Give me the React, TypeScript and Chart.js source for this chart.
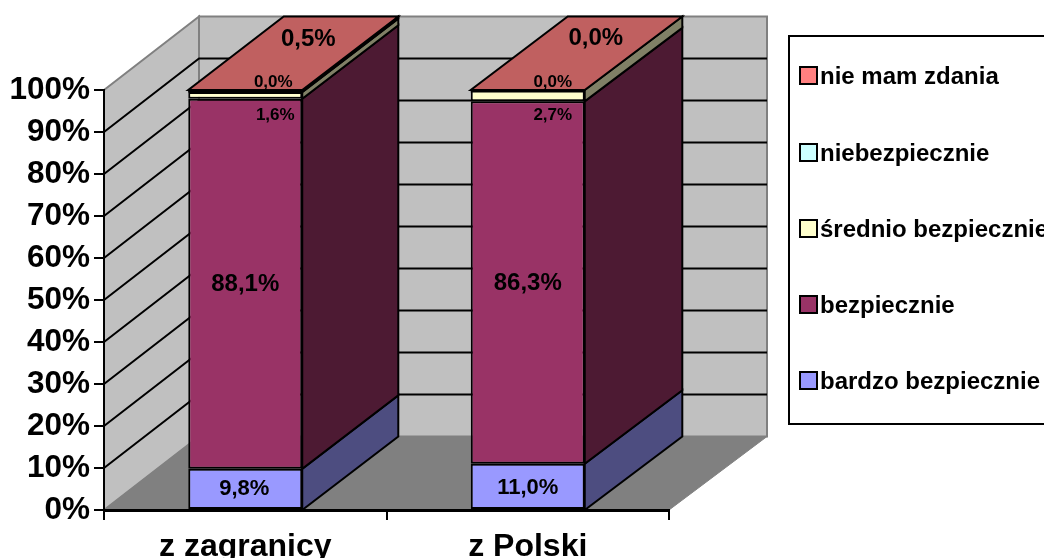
import React, { useEffect, useRef } from "react";
import { Chart, registerables } from "chart.js";

Chart.register(...registerables);

const categories = ["z zagranicy", "z Polski"];
const seriesNames = ["bardzo bezpiecznie", "bezpiecznie", "średnio bezpiecznie", "niebezpiecznie", "nie mam zdania"];
const bardzoBezpiecznie = [9.8, 11.0];
const bezpiecznie = [88.1, 86.3];
const srednioBezpiecznie = [1.6, 2.7];
const niebezpiecznie = [0.0, 0.0];
const nieMamZdania = [0.5, 0.0];
const seriesValues = [bardzoBezpiecznie, bezpiecznie, srednioBezpiecznie, niebezpiecznie, nieMamZdania];

const frontColors = ["#9999FF", "#993366", "#FFFFCC", "#CCFFFF", "#FF8080"];
const sideColors = ["#4D4D80", "#4D1A33", "#808066", "#668080", "#804040"];
const topColor = "#C06060";

// data-label style, per series: font size and [dx, dy] per category, relative to the segment centre
const labelSizes = [22, 24, 17, 17, 24];
const labelShiftX = [[-1, 0], [0, 0], [30, 25], [28, 25], [63, 68]];
const labelShiftY = [[0, 1], [1, 1], [20, 20], [-10, -8], [-52, -52]];

const FONT = '"Liberation Sans", Arial, sans-serif';
const DX_LEFT = 95;
const DX_RIGHT = 98;
const DY = -73.5;

const fmt = (v: number) => v.toFixed(1).replace(".", ",") + "%";

function poly(ctx: CanvasRenderingContext2D, pts: number[][], fill: string, stroke: string, lw: number) {
  ctx.beginPath();
  pts.forEach((p, i) => (i ? ctx.lineTo(p[0], p[1]) : ctx.moveTo(p[0], p[1])));
  ctx.closePath();
  ctx.fillStyle = fill;
  ctx.fill();
  ctx.lineWidth = lw;
  ctx.strokeStyle = stroke;
  ctx.lineJoin = "miter";
  ctx.stroke();
}

const backX = (chart: any, x: number) => {
  const { left, right } = chart.chartArea;
  return x + DX_LEFT + ((x - left) / (right - left)) * (DX_RIGHT - DX_LEFT);
};

const walls3d = {
  id: "walls3d",
  beforeDraw(chart: any) {
    const ctx = chart.ctx;
    const { left, right } = chart.chartArea;
    const yS = chart.scales.y;
    const y0 = yS.getPixelForValue(0);
    const y100 = yS.getPixelForValue(100);
    const bl = backX(chart, left);
    const br = backX(chart, right);
    ctx.save();
    poly(ctx, [[left, y100], [bl, y100 + DY], [bl, y0 + DY], [left, y0]], "#C0C0C0", "#808080", 2);
    poly(ctx, [[bl, y100 + DY], [br, y100 + DY], [br, y0 + DY], [bl, y0 + DY]], "#C0C0C0", "#808080", 2);
    poly(ctx, [[left, y0], [right, y0], [br, y0 + DY], [bl, y0 + DY]], "#808080", "#808080", 1);
    ctx.strokeStyle = "#000";
    ctx.lineWidth = 2;
    for (let v = 10; v < 100; v += 10) {
      const y = yS.getPixelForValue(v);
      ctx.beginPath();
      ctx.moveTo(left, y);
      ctx.lineTo(bl, y + DY);
      ctx.lineTo(br, y + DY);
      ctx.stroke();
    }
    ctx.restore();
  },
  afterDatasetsDraw(chart: any) {
    const ctx = chart.ctx;
    const yS = chart.scales.y;
    ctx.save();
    categories.forEach((_, j) => {
      let stackTop = 0;
      let elL = 0;
      let elR = 0;
      seriesValues.forEach((vals, i) => {
        const el = chart.getDatasetMeta(i).data[j];
        const l = el.x - el.width / 2;
        const r = el.x + el.width / 2;
        elL = l;
        elR = r;
        const bottom = yS.getPixelForValue(stackTop);
        stackTop += vals[j];
        const top = yS.getPixelForValue(stackTop);
        if (vals[j] > 0) {
          const br = backX(chart, r);
          poly(ctx, [[r, top], [r, bottom], [br, bottom + DY], [br, top + DY]], sideColors[i], "#000", 2);
        }
      });
      const t = yS.getPixelForValue(stackTop);
      poly(ctx, [[elL, t], [elR, t], [backX(chart, elR), t + DY], [backX(chart, elL), t + DY]], topColor, "#000", 2);
      ctx.strokeStyle = "#000";
      ctx.lineWidth = 3;
      ctx.beginPath();
      ctx.moveTo(elL, t + 1);
      ctx.lineTo(elR, t + 1);
      ctx.stroke();
    });

    // data labels
    ctx.fillStyle = "#000";
    ctx.textAlign = "center";
    ctx.textBaseline = "middle";
    categories.forEach((_, j) => {
      let acc = 0;
      seriesValues.forEach((vals, i) => {
        const el = chart.getDatasetMeta(i).data[j];
        const mid = yS.getPixelForValue(acc + vals[j] / 2);
        acc += vals[j];
        ctx.font = `bold ${labelSizes[i]}px ${FONT}`;
        ctx.fillText(fmt(vals[j]), el.x + labelShiftX[i][j], mid + labelShiftY[i][j]);
      });
    });

    // legend (last entry on top, as in the original)
    ctx.lineWidth = 2;
    ctx.strokeStyle = "#000";
    ctx.strokeRect(789, 36, 300, 388);
    const rows = [75, 152, 228, 304, 380];
    ctx.textAlign = "left";
    ctx.font = `bold 24px ${FONT}`;
    seriesNames
      .slice()
      .reverse()
      .forEach((name, k) => {
        const idx = seriesNames.length - 1 - k;
        ctx.fillStyle = frontColors[idx];
        ctx.fillRect(800, rows[k] - 8, 17, 17);
        ctx.strokeRect(800, rows[k] - 8, 17, 17);
        ctx.fillStyle = "#000";
        ctx.fillText(name, 820, rows[k] + 2);
      });
    ctx.restore();
  },
};

export default function App() {
  const ref = useRef<HTMLCanvasElement>(null);
  useEffect(() => {
    document.body.style.margin = "0";
    document.body.style.overflow = "hidden";
    const chart = new Chart(ref.current as HTMLCanvasElement, {
      type: "bar",
      data: {
        labels: categories,
        datasets: seriesNames.map((name, i) => ({
          label: name,
          data: seriesValues[i],
          backgroundColor: frontColors[i],
          borderColor: "#000",
          borderWidth: 2,
          borderSkipped: false,
          categoryPercentage: 1,
          barPercentage: 0.4035,
        })),
      },
      options: {
        animation: false,
        responsive: false,
        layout: { padding: { left: 0, top: 90, right: 375, bottom: 0 } },
        plugins: { legend: { display: false }, tooltip: { enabled: false }, title: { display: false } },
        scales: {
          x: {
            stacked: true,
            afterFit: (s: any) => {
              s.height = 48;
            },
            grid: { offset: true, drawOnChartArea: false, color: "#000", lineWidth: 2, tickLength: 10 },
            border: { color: "#000", width: 3 },
            ticks: { color: "#000", padding: 8, maxRotation: 0, font: { family: FONT, size: 32, weight: "bold" } },
          },
          y: {
            stacked: true,
            min: 0,
            max: 100,
            afterFit: (s: any) => {
              s.width = 104;
            },
            grid: { drawOnChartArea: false, color: "#000", lineWidth: 2, tickLength: 10 },
            border: { color: "#000", width: 2 },
            ticks: {
              stepSize: 10,
              autoSkip: false,
              color: "#000",
              padding: 4,
              font: { family: FONT, size: 31.5, weight: "bold" },
              callback: (v: any) => v + "%",
            },
          },
        },
      },
      plugins: [walls3d],
    } as any);
    return () => chart.destroy();
  }, []);
  return <canvas ref={ref} width={1044} height={558} style={{ display: "block" }} />;
}
